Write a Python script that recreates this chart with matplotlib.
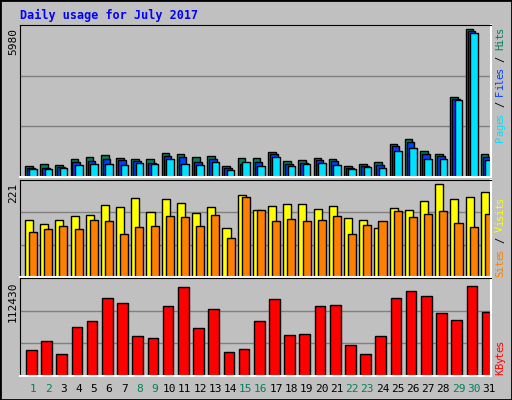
import numpy as np
import matplotlib.pyplot as plt
from matplotlib.patches import Rectangle

days = np.arange(1, 32)
weekend = [1, 2, 8, 9, 15, 16, 22, 23, 29, 30]

hits = [446, 525, 486, 723, 802, 880, 762, 723, 723, 959, 920, 802, 841, 446, 762,
        762, 998, 644, 683, 762, 723, 446, 525, 604, 1314, 1511, 1038, 920, 3154, 5808, 920]
files = [368, 368, 407, 604, 644, 723, 683, 644, 565, 841, 802, 604, 723, 368, 525,
         604, 920, 525, 565, 683, 644, 368, 446, 486, 1235, 1393, 920, 841, 3062, 5729, 802]
pages = [328, 328, 368, 486, 525, 525, 486, 565, 525, 723, 525, 486, 604, 289, 604,
         446, 802, 446, 525, 565, 486, 328, 407, 368, 1038, 1156, 723, 723, 3022, 5650, 683]
visits = [129, 120, 129, 138, 141, 164, 159, 180, 148, 178, 168, 145, 159, 111, 187,
          152, 161, 166, 166, 154, 161, 134, 129, 111, 157, 152, 173, 212, 178, 182, 193]
sites = [102, 109, 116, 109, 129, 127, 97, 113, 116, 138, 136, 116, 141, 88, 182,
         152, 127, 132, 127, 129, 138, 97, 118, 127, 150, 136, 143, 150, 122, 113, 143]
kbytes = [30281, 40500, 25738, 56396, 63209, 89326, 83648, 45797, 43526, 80620, 102574,
          55261, 76836, 27995, 31402, 63209, 88191, 46934, 48069, 80620, 81755, 35959,
          25738, 45797, 89326, 98033, 91214, 71914, 63966, 103710, 73049]

BG = '#C0C0C0'
MONO = 'DejaVu Sans Mono'

fig = plt.figure(figsize=(5.12, 4.0), dpi=100, facecolor=BG)
fig.patches.append(Rectangle((0, 0), 1, 1, transform=fig.transFigure, fill=False,
                             edgecolor='black', lw=2))
fig.text(20 / 512, 1 - 15 / 400, 'Daily usage for July 2017', color='#0000FF',
         family=MONO, weight='bold', fontsize=8.5, va='center')

xl = (0.145, 31.145)


def make_ax(top, bottom):
    ax = fig.add_axes([20 / 512, 1 - bottom / 400, 471 / 512, (bottom - top) / 400])
    ax.set_facecolor(BG)
    ax.set_xlim(*xl)
    ax.set_xticks([])
    ax.set_yticks([])
    for s in ['left', 'top']:
        ax.spines[s].set_color('black')
    for s in ['right', 'bottom']:
        ax.spines[s].set_color('white')
        ax.spines[s].set_linewidth(1.5)
    return ax


def side_label(y_top, parts):
    # text reads bottom-to-top, so the last character sits at the top
    chars = [(ch, col) for txt, col in parts for ch in txt][::-1]
    y = y_top
    for ch, col in chars:
        fig.text(500 / 512, 1 - y / 400, ch, color=col, family=MONO, fontsize=7.5,
                 rotation=90, ha='center', va='top')
        y += 5.7


kw = dict(edgecolor='black', linewidth=1, align='edge')

# top panel
ax1 = make_ax(25, 177)
ax1.set_ylim(0, 5980)
for g in [5980 / 3, 5980 * 2 / 3]:
    ax1.axhline(g, color='#808080', lw=1, zorder=0)
ax1.bar(days - 0.53, hits, width=0.5, color='#00805C', **kw)
ax1.bar(days - 0.4, files, width=0.5, color='#0040FF', **kw)
ax1.bar(days - 0.24, pages, width=0.5, color='#00E0FF', **kw)
fig.text(13 / 512, 1 - 28 / 400, '5980', rotation=90, family=MONO, fontsize=8,
         ha='center', va='top')
side_label(27, [('Pages', '#00E0FF'), (' / ', 'black'), ('Files', '#0040FF'),
                (' / ', 'black'), ('Hits', '#00805C')])

# middle panel
ax2 = make_ax(180, 277)
ax2.set_ylim(0, 221)
for g in [221 / 3, 221 * 2 / 3]:
    ax2.axhline(g, color='#808080', lw=1, zorder=0)
ax2.bar(days - 0.53, visits, width=0.53, color='#FFFF00', **kw)
ax2.bar(days - 0.26, sites, width=0.53, color='#FF8000', **kw)
fig.text(13 / 512, 1 - 183 / 400, '221', rotation=90, family=MONO, fontsize=8,
         ha='center', va='top')
side_label(197, [('Sites', '#FF8000'), (' / ', 'black'), ('Visits', '#FFFF00')])

# bottom panel
ax3 = make_ax(278, 376)
ax3.set_ylim(0, 112430)
for g in [112430 / 3, 112430 * 2 / 3]:
    ax3.axhline(g, color='#808080', lw=1, zorder=0)
ax3.bar(days - 0.46, kbytes, width=0.7, color='#FF0000', **kw)
fig.text(13 / 512, 1 - 281 / 400, '112430', rotation=90, family=MONO, fontsize=8,
         ha='center', va='top')
side_label(340, [('KBytes', '#FF0000')])

for d in days:
    x = 20 + (d - xl[0]) / 31 * 471
    fig.text(x / 512, 1 - 389 / 400, str(d), family=MONO, fontsize=8, ha='center',
             va='center', color='#00805C' if d in weekend else 'black')

fig.savefig('out.png', dpi=100, facecolor=BG)
